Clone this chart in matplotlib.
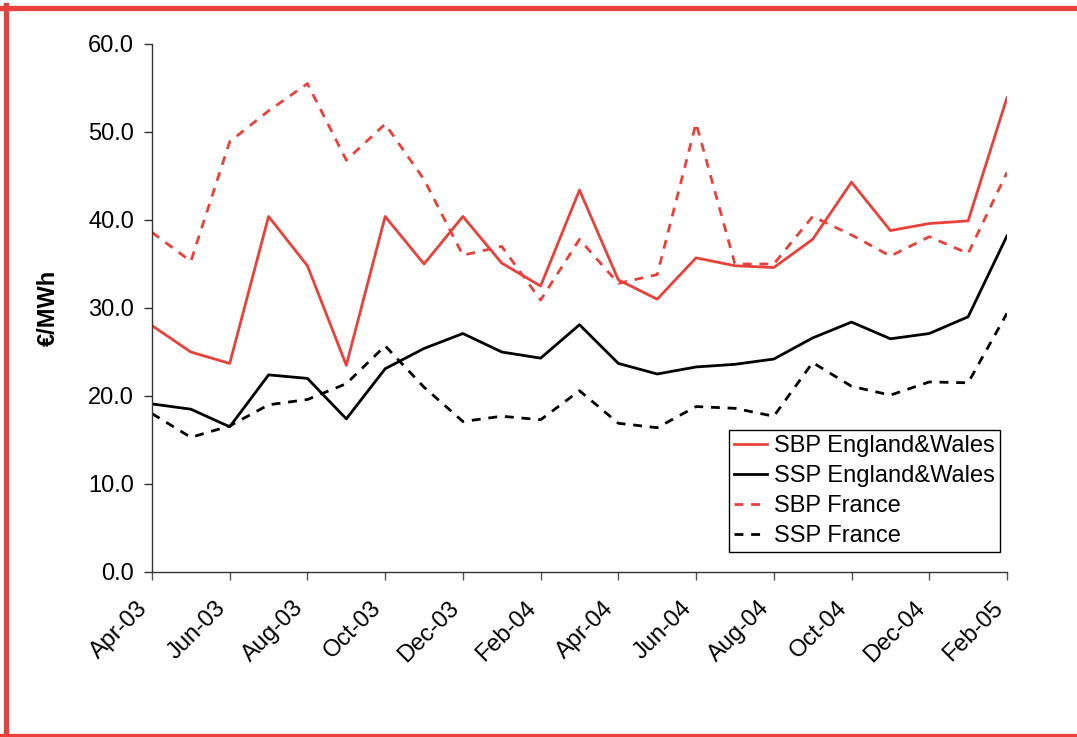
import matplotlib
matplotlib.use('Agg')
import matplotlib.pyplot as plt
from matplotlib.lines import Line2D

plt.rcParams['font.family'] = ['Liberation Sans', 'DejaVu Sans']

# monthly categories Apr-03 .. Feb-05
months = ['Apr-03', 'May-03', 'Jun-03', 'Jul-03', 'Aug-03', 'Sep-03', 'Oct-03',
          'Nov-03', 'Dec-03', 'Jan-04', 'Feb-04', 'Mar-04', 'Apr-04', 'May-04',
          'Jun-04', 'Jul-04', 'Aug-04', 'Sep-04', 'Oct-04', 'Nov-04', 'Dec-04',
          'Jan-05', 'Feb-05']

sbp_ew = [28.0, 25.0, 23.7, 40.4, 34.8, 23.5, 40.4, 35.0, 40.4, 35.1, 32.5, 43.4,
          33.2, 31.0, 35.7, 34.8, 34.6, 37.8, 44.3, 38.8, 39.6, 39.9, 53.9]
ssp_ew = [19.1, 18.5, 16.5, 22.4, 22.0, 17.4, 23.1, 25.4, 27.1, 25.0, 24.3, 28.1,
          23.7, 22.5, 23.3, 23.6, 24.2, 26.6, 28.4, 26.5, 27.1, 29.0, 38.2]
sbp_fr = [38.6, 35.3, 48.9, 52.4, 55.5, 46.8, 50.9, 44.6, 36.0, 37.0, 30.9, 37.8,
          32.8, 33.8, 51.0, 35.0, 35.0, 40.4, 38.3, 35.9, 38.1, 36.2, 45.4]
ssp_fr = [18.0, 15.3, 16.6, 19.0, 19.6, 21.4, 25.7, 21.0, 17.1, 17.7, 17.3, 20.6,
          16.9, 16.4, 18.8, 18.6, 17.7, 23.8, 21.1, 20.1, 21.6, 21.5, 29.4]

red = '#E8413A'
x = list(range(len(months)))
fs = 17

fig = plt.figure(figsize=(10.77, 7.37), dpi=100)
ax = fig.add_axes([152/1077, 1 - 572/737, 855/1077, 528/737])

lw = 2.0
ax.plot(x, sbp_ew, color=red, lw=lw, label='SBP England&Wales')
ax.plot(x, ssp_ew, color='black', lw=lw, label='SSP England&Wales')
ax.plot(x, sbp_fr, color=red, lw=lw, dashes=(3.2, 2.8), label='SBP France')
ax.plot(x, ssp_fr, color='black', lw=lw, dashes=(3.2, 2.8), label='SSP France')

ax.set_xlim(0, len(months) - 1)
ax.set_ylim(0, 60)
ax.set_yticks(range(0, 61, 10))
ax.set_yticklabels(['%.1f' % v for v in range(0, 61, 10)], fontsize=fs)
ax.set_xticks(x[::2])
ax.set_xticklabels(months[::2], fontsize=fs, rotation=45, ha='right')
ax.tick_params(axis='y', length=6, width=1, pad=7, color='#333333')
ax.tick_params(axis='x', length=6, width=1, pad=12, color='#555555')
for s in ['top', 'right']:
    ax.spines[s].set_visible(False)
for s in ['left', 'bottom']:
    ax.spines[s].set_color('#333333')
    ax.spines[s].set_linewidth(1)

ax.set_ylabel('€/MWh', fontsize=fs, fontweight='bold', labelpad=20)

leg = ax.legend(loc='lower right', bbox_to_anchor=(1000/1077, 1 - 552/737),
                bbox_transform=fig.transFigure, fontsize=fs, frameon=True,
                fancybox=False, framealpha=1, edgecolor='black',
                handlelength=1.42, handletextpad=0.3, labelspacing=0.34,
                borderpad=0.2, borderaxespad=0)
leg.get_frame().set_linewidth(1)

# red frame around the figure
fig.add_artist(Line2D([0, 1], [1 - 7.5/737] * 2, color=red, lw=3.8,
                      transform=fig.transFigure))
fig.add_artist(Line2D([5.5/1077] * 2, [0, 1 - 5/737], color=red, lw=3.8,
                      transform=fig.transFigure))
fig.add_artist(Line2D([0, 1], [1.5/737] * 2, color=red, lw=3.8,
                      transform=fig.transFigure))

fig.savefig('out.png', dpi=100)
